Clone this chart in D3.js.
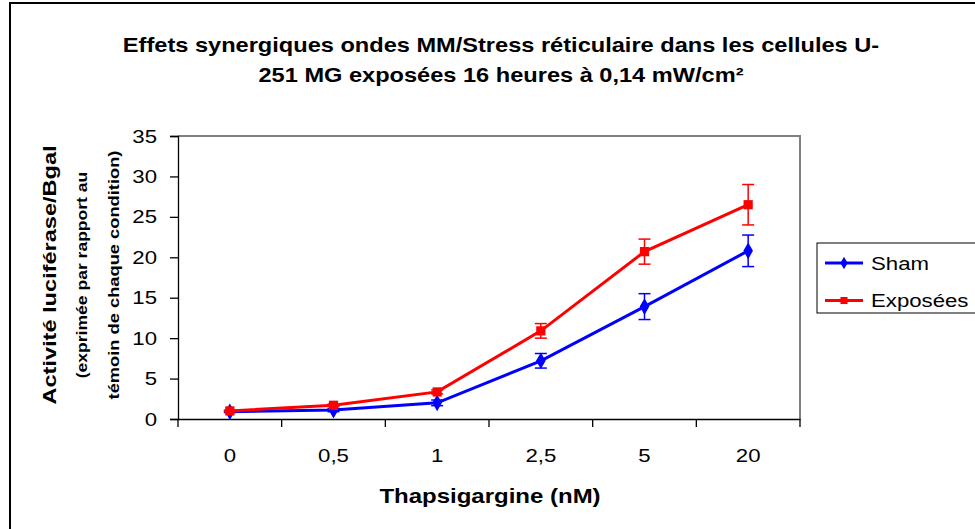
<!DOCTYPE html>
<html>
<head>
<meta charset="utf-8">
<script src="https://cdn.jsdelivr.net/npm/d3@7"></script>
<style>
  html, body { margin: 0; padding: 0; background: #fff; }
  svg { display: block; font-family: "Liberation Sans", Arial, sans-serif; }
</style>
</head>
<body>
<svg id="chart" width="975" height="529"></svg>
<script>
// Thapsigargine doses (nM) on the category axis
const doses = ["0", "0,5", "1", "2,5", "5", "20"];

// Luciferase/Bgal activity, relative to each condition's control
const sham = [0.9, 1.1, 2.0, 7.2, 13.9, 20.8];
const shamErr = [0.1, 0.2, 0.35, 0.9, 1.6, 1.95];
const exposees = [1.0, 1.7, 3.35, 10.9, 20.7, 26.5];
const exposeesErr = [0.1, 0.15, 0.25, 0.9, 1.55, 2.5];

const yTicks = [0, 5, 10, 15, 20, 25, 30, 35];

const series = [
  { name: "Sham", values: sham, err: shamErr, color: "#0000FF", symbol: d3.symbolDiamond },
  { name: "Exposées", values: exposees, err: exposeesErr, color: "#FF0000", symbol: d3.symbolSquare }
];

const svg = d3.select("#chart");
const stretch = 1.2; // glyphs are drawn slightly wide

const plot = { left: 178, right: 800, top: 136, bottom: 419 };

const x = d3.scaleBand().domain(doses).range([plot.left, plot.right]);
const y = d3.scaleLinear().domain([0, 35]).range([plot.bottom, plot.top]);

// outer chart frame
svg.append("rect")
  .attr("x", 10).attr("y", 3).attr("width", 1000).attr("height", 600)
  .attr("fill", "none").attr("stroke", "#000").attr("stroke-width", 2);

// plot area border (top and right)
svg.append("path")
  .attr("d", `M${plot.left},${plot.top}H${plot.right}V${plot.bottom}`)
  .attr("fill", "none").attr("stroke", "#808080").attr("stroke-width", 2);

function label(g, tx, ty, text, opts) {
  const t = g.append("text")
    .attr("transform", `translate(${tx},${ty})${opts.rotate ? " rotate(-90)" : ""} scale(${opts.sx || stretch},1)`)
    .attr("text-anchor", opts.anchor || "middle")
    .attr("font-size", opts.size)
    .attr("font-weight", opts.bold ? "bold" : "normal")
    .attr("fill", "#000")
    .text(text);
  return t;
}

// y axis
const yAxis = svg.append("g")
  .attr("transform", `translate(${plot.left},0)`)
  .call(d3.axisLeft(y).tickValues(yTicks).tickSize(8).tickFormat(""));
yAxis.select(".domain").attr("stroke", "#000").attr("stroke-width", 1.3);
yAxis.selectAll(".tick line").attr("stroke", "#000").attr("stroke-width", 1.3);
yTicks.forEach(v => label(svg, 157, y(v) + 6.5, String(v), { size: 18.5, anchor: "end" }));

// x axis: ticks on the category boundaries
const xAxis = svg.append("g")
  .attr("transform", `translate(0,${plot.bottom})`)
  .call(d3.axisBottom(x).tickSize(0).tickFormat(""));
xAxis.select(".domain").attr("stroke", "#000").attr("stroke-width", 1.3);
const bounds = doses.map(d => x(d)).concat([x(doses[doses.length - 1]) + x.bandwidth()]);
xAxis.selectAll(".bound").data(bounds).join("line")
  .attr("class", "bound")
  .attr("x1", d => d).attr("x2", d => d)
  .attr("y1", 0).attr("y2", 8)
  .attr("stroke", "#000").attr("stroke-width", 1.3);
doses.forEach(d => label(svg, x(d) + x.bandwidth() / 2, 462, d, { size: 18.5 }));

const cx = d => x(d) + x.bandwidth() / 2;

// series: lines, error bars, markers
series.forEach(s => {
  const g = svg.append("g");
  const pts = doses.map((d, i) => ({ d, v: s.values[i], e: s.err[i] }));
  g.append("path")
    .datum(pts)
    .attr("fill", "none").attr("stroke", s.color).attr("stroke-width", 3)
    .attr("d", d3.line().x(p => cx(p.d)).y(p => y(p.v)));
  const eb = g.selectAll(".err").data(pts).join("g").attr("class", "err")
    .attr("stroke", s.color).attr("stroke-width", 1.5);
  eb.append("line")
    .attr("x1", p => cx(p.d)).attr("x2", p => cx(p.d))
    .attr("y1", p => y(p.v + p.e)).attr("y2", p => y(p.v - p.e));
  eb.append("line")
    .attr("x1", p => cx(p.d) - 6).attr("x2", p => cx(p.d) + 6)
    .attr("y1", p => y(p.v + p.e)).attr("y2", p => y(p.v + p.e));
  eb.append("line")
    .attr("x1", p => cx(p.d) - 6).attr("x2", p => cx(p.d) + 6)
    .attr("y1", p => y(p.v - p.e)).attr("y2", p => y(p.v - p.e));
  g.selectAll(".mk").data(pts).join("path").attr("class", "mk")
    .attr("transform", p => `translate(${cx(p.d)},${y(p.v)})`)
    .attr("d", d3.symbol().type(s.symbol).size(s.symbol === d3.symbolSquare ? 85 : 80))
    .attr("fill", s.color);
});

// legend
const lg = svg.append("g");
lg.append("rect")
  .attr("x", 817).attr("y", 243).attr("width", 170).attr("height", 70)
  .attr("fill", "#fff").attr("stroke", "#000").attr("stroke-width", 1);
series.forEach((s, i) => {
  const ly = 263 + i * 37.5;
  lg.append("line").attr("x1", 825).attr("x2", 863).attr("y1", ly).attr("y2", ly)
    .attr("stroke", s.color).attr("stroke-width", 3);
  lg.append("path").attr("transform", `translate(844,${ly})`)
    .attr("d", d3.symbol().type(s.symbol).size(s.symbol === d3.symbolSquare ? 50 : 45))
    .attr("fill", s.color);
  label(lg, 871, ly + 6.5, s.name, { size: 18.5, anchor: "start" });
});

// titles
label(svg, 501, 52, "Effets synergiques ondes MM/Stress réticulaire dans les cellules U-", { size: 20, bold: true, sx: 1.18 });
label(svg, 501, 82, "251 MG exposées 16 heures à 0,14 mW/cm²", { size: 20, bold: true, sx: 1.18 });
label(svg, 490, 503, "Thapsigargine (nM)", { size: 20, bold: true, sx: 1.2 });
label(svg, 56, 275, "Activité luciférase/Bgal", { size: 19, bold: true, rotate: true, sx: 1.24 });
label(svg, 87, 275, "(exprimée par rapport au", { size: 15, bold: true, rotate: true, sx: 1.17 });
label(svg, 119, 275, "témoin de chaque condition)", { size: 15, bold: true, rotate: true, sx: 1.22 });
</script>
</body>
</html>
